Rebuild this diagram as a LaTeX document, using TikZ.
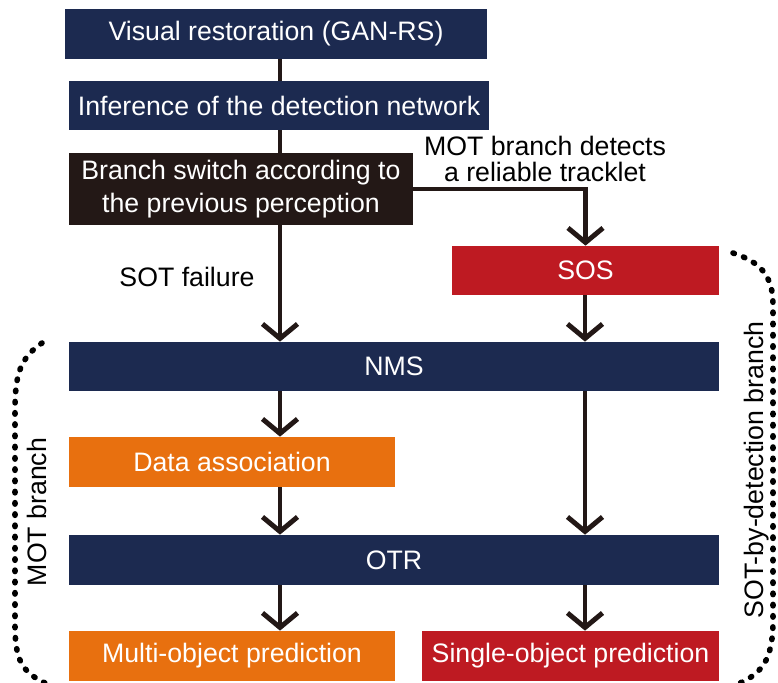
\documentclass[tikz,border=0pt]{standalone}
\usepackage{fontspec}
\setmainfont{Liberation Sans}
\usetikzlibrary{arrows.meta,positioning}
\definecolor{navyblue}{HTML}{1C2A50}
\definecolor{darkred}{HTML}{BE1A22}
\definecolor{darkorange}{HTML}{E8700F}
\definecolor{nearblack}{HTML}{231816}

\tikzset{
  labelfont/.style={font=\fontsize{15.2}{18.5}\selectfont},
  stage/.style={fill=navyblue, text=white, inner sep=0pt, minimum height=1cm,
    labelfont, align=center},
  link/.style={line width=2.8pt, draw=nearblack},
  flow/.style={link, -{Straight Barb[length=2.9mm,width=7mm]}},
  bracket/.style={line width=3.2pt, dash pattern=on 0.8pt off 5.6pt, line cap=round},
}

\begin{document}
\begin{tikzpicture}[x=0.02cm, y=-0.02cm]
  \useasboundingbox (0,0) rectangle (778,683);
  \coordinate (xl) at (280,0);
  \coordinate (xr) at (585,0);
  % upper pipeline
  \node[stage, minimum width=8.44cm] (vis) at (276,34) {Visual restoration (GAN-RS)};
  \node[stage, minimum width=8.4cm, minimum height=0.98cm] (inf) at (279,105.5) {Inference of the detection network};
  \node[stage, fill=nearblack, minimum width=6.88cm, minimum height=1.44cm] (sw) at (241,189)
    {Branch switch according to\\the previous perception};
  \node[stage, fill=darkred, minimum width=5.34cm, minimum height=0.98cm] (sos) at (585.5,270.5) {SOS};
  % shared stages
  \node[stage, minimum width=13cm, minimum height=0.98cm] (nms) at (394,366.5) {NMS};
  \node[stage, fill=darkorange, minimum width=6.52cm] (da) at (232,462) {Data association};
  \node[stage, minimum width=13cm] (otr) at (394,560) {OTR};
  \node[stage, fill=darkorange, minimum width=6.52cm] (mop) at (232,656) {Multi-object prediction};
  \node[stage, fill=darkred, minimum width=5.94cm] (sop) at (570.5,656) {Single-object prediction};

  % labels
  \node[labelfont] (fail) at (187,277) {SOT failure};
  \node[align=center, font=\fontsize{15.2}{14.8}\selectfont] (rel) at (545,159)
    {MOT branch detects\\a reliable tracklet};

  % connectors
  \draw[link] (vis.south -| xl) -- (inf.north -| xl);
  \draw[link] (inf.south -| xl) -- (sw.north -| xl);
  \draw[flow] (sw.south -| xl) -- (nms.north -| xl);
  \draw[flow] (sw.east) -| (sos.north);
  \draw[flow] (sos.south -| xr) -- (nms.north -| xr);
  \draw[flow] (nms.south -| xl) -- (da.north -| xl);
  \draw[flow] (da.south -| xl) -- (otr.north -| xl);
  \draw[flow] (nms.south -| xr) -- (otr.north -| xr);
  \draw[flow] (otr.south -| xl) -- (mop.north -| xl);
  \draw[flow] (otr.south -| xr) -- (sop.north -| xr);

  % branch brackets
  \draw[bracket] (42,343) .. controls (20,358) and (15,375) .. (15,410)
    -- (15,625) .. controls (15,660) and (22,672) .. (45,683);
  \node[rotate=90, labelfont] (motlab) at (37,512) {MOT branch};
  \draw[bracket] (733,253) .. controls (760,262) and (773,275) .. (773,305)
    -- (773,620) .. controls (773,655) and (765,672) .. (740,683);
  \node[rotate=90, labelfont] (sotlab) at (757,470) {SOT-by-detection branch};
\end{tikzpicture}
\end{document}
